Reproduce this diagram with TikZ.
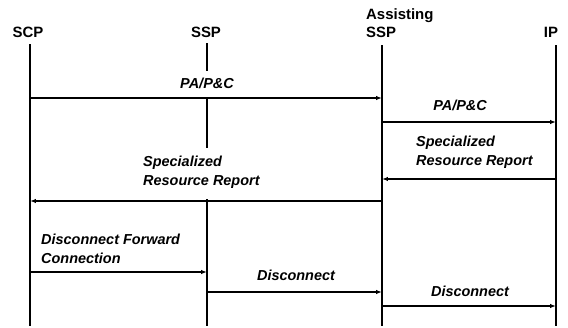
\documentclass[tikz,border=0pt]{standalone}
\usepackage{fontspec}
\setmainfont{Liberation Sans}
\usetikzlibrary{arrows.meta}
\tikzset{
  lifeline/.style={line width=1.6pt, black},
  msg/.style={line width=1.2pt, -{Latex[length=6pt,width=4.5pt]}},
  hdr/.style={font=\fontsize{15}{18}\selectfont\bfseries, inner sep=0pt},
  lbl/.style={font=\fontsize{14.5}{19}\selectfont\bfseries\itshape, inner sep=1pt, align=left},
}
\begin{document}
\begin{tikzpicture}[x=1bp,y=-1bp]
\fill[white] (0,0) rectangle (568,327);
\useasboundingbox (0,0) rectangle (568,327);
% lifeline ends
\coordinate (scpT) at (30,44);  \coordinate (scpB) at (30,326);
\coordinate (sspT) at (207,43); \coordinate (sspB) at (207,326);
\coordinate (ssp1) at (207,71); \coordinate (ssp2) at (207,97);
\coordinate (ssp3) at (207,148); \coordinate (ssp4) at (207,199);
\coordinate (asT) at (382,45);  \coordinate (asB) at (382,326);
\coordinate (ipT) at (556,45);  \coordinate (ipB) at (556,326);
\draw[lifeline] (scpT) -- (scpB);
\draw[lifeline] (sspT) -- (ssp1);
\draw[lifeline] (ssp2) -- (ssp3);
\draw[lifeline] (ssp4) -- (sspB);
\draw[lifeline] (asT) -- (asB);
\draw[lifeline] (ipT) -- (ipB);
% headers
\node[hdr] (scp) at (28,32) {SCP};
\node[hdr] (ssp) at (206,32) {SSP};
\node[hdr, anchor=west, align=left] (assp) at (366,23) {Assisting\\SSP};
\node[hdr] (ip) at (551,32) {IP};
% labels
\node[lbl] (l1) at (207,83) {PA/P\&C};
\node[lbl] (l2) at (460,105) {PA/P\&C};
\node[lbl, anchor=west] (l3) at (415,152.5) {Specialized\\Resource Report};
\node[lbl, anchor=west] (l4) at (142,172.5) {Specialized\\Resource Report};
\node[lbl, anchor=west] (l5) at (40,248.5) {Disconnect Forward\\Connection};
\node[lbl] (l6) at (296,275) {Disconnect};
\node[lbl] (l7) at (470,291) {Disconnect};
% message endpoints
\coordinate (m1a) at (30,98);   \coordinate (m1b) at (382,98);
\coordinate (m2a) at (382,122); \coordinate (m2b) at (556,122);
\coordinate (m3a) at (556,179); \coordinate (m3b) at (382,179);
\coordinate (m4a) at (382,201); \coordinate (m4b) at (30,201);
\coordinate (m5a) at (30,272);  \coordinate (m5b) at (207,272);
\coordinate (m6a) at (207,292); \coordinate (m6b) at (382,292);
\coordinate (m7a) at (382,306); \coordinate (m7b) at (556,306);
% arrows
\draw[msg] (m1a) -- (m1b);
\draw[msg] (m2a) -- (m2b);
\draw[msg] (m3a) -- (m3b);
\draw[msg] (m4a) -- (m4b);
\draw[msg] (m5a) -- (m5b);
\draw[msg] (m6a) -- (m6b);
\draw[msg] (m7a) -- (m7b);
\end{tikzpicture}
\end{document}
